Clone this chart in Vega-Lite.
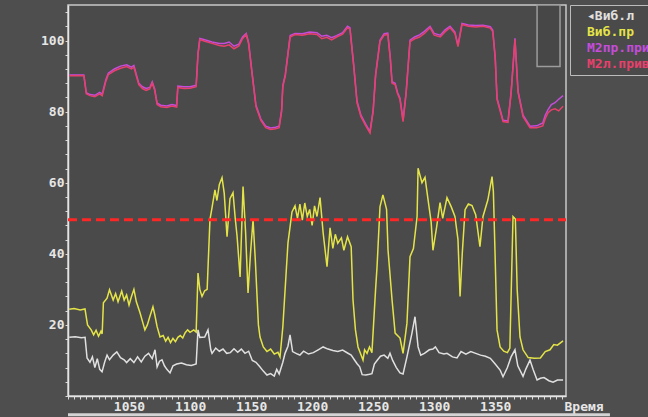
{
 "$schema": "https://vega.github.io/schema/vega-lite/v6.json",
 "width": 498, "height": 391,
 "autosize": {"type": "none"},
 "padding": {"left": 68, "top": 5, "right": 82, "bottom": 21},
 "background": "#4e4e4e",
 "config": {"view": {"fill": "#4a4a4a", "stroke": "#c8c8c8", "strokeWidth": 1.5}, "font": "DejaVu Sans Mono"},
 "encoding": {
  "x": {"field": "t", "type": "quantitative",
   "scale": {"domain": [1000, 1408], "nice": false, "zero": false},
   "axis": {
    "values": [1000,1005,1010,1015,1020,1025,1030,1035,1040,1045,1050,1055,1060,1065,1070,1075,1080,1085,1090,1095,1100,1105,1110,1115,1120,1125,1130,1135,1140,1145,1150,1155,1160,1165,1170,1175,1180,1185,1190,1195,1200,1205,1210,1215,1220,1225,1230,1235,1240,1245,1250,1255,1260,1265,1270,1275,1280,1285,1290,1295,1300,1305,1310,1315,1320,1325,1330,1335,1340,1345,1350,1355,1360,1365,1370,1375,1380,1385,1390,1395,1400,1405],
    "labelExpr": "(datum.value % 50 == 0 && datum.value > 1000 && datum.value < 1400) ? datum.value : ''",
    "title": "Время", "titleX": 496, "titleY": 10, "titleAlign": "left", "titleBaseline": "middle",
    "titleColor": "#e6e6e6", "titleFont": "DejaVu Sans Mono", "titleFontSize": 13, "titleFontWeight": "bold",
    "domainColor": "#e4e4e4", "domainWidth": 1.5, "tickColor": "#d8d8d8", "tickSize": 3,
    "labelColor": "#e6e6e6", "labelFont": "DejaVu Sans Mono", "labelFontSize": 13, "labelFontWeight": "bold",
    "labelPadding": 1, "grid": false, "labelFlush": false, "labelOverlap": false
   }},
  "y": {"field": "v", "type": "quantitative",
   "scale": {"domain": [0, 110], "nice": false, "zero": false},
   "axis": {
    "values": [0,4,8,12,16,20,24,28,32,36,40,44,48,52,56,60,64,68,72,76,80,84,88,92,96,100,104,108],
    "labelExpr": "(datum.value % 20 == 0 && datum.value > 0) ? datum.value : ''",
    "title": null,
    "domainColor": "#e4e4e4", "domainWidth": 1.5, "tickColor": "#d8d8d8", "tickSize": 3,
    "labelColor": "#e6e6e6", "labelFont": "DejaVu Sans Mono", "labelFontSize": 13, "labelFontWeight": "bold",
    "labelPadding": 1, "grid": false, "labelOverlap": false
   }}
 },
 "layer": [
  {
   "data": {"values": [{"t": 1384.3, "t2": 1403.1, "v": 92.7, "v2": 110}]},
   "mark": {"type": "rect", "fill": "#474747", "stroke": "#9c9c9c", "strokeWidth": 1.5},
   "encoding": {"x2": {"field": "t2"}, "y2": {"field": "v2"}}
  },
  {
   "data": {"values": [
{"s":"Виб.л","t":1001,"v":16.5},{"s":"Виб.л","t":1006,"v":16.7},{"s":"Виб.л","t":1011,"v":16.4},{"s":"Виб.л","t":1014,"v":16.5},{"s":"Виб.л","t":1015.6,"v":10.7},{"s":"Виб.л","t":1018,"v":9.5},{"s":"Виб.л","t":1020,"v":11},{"s":"Виб.л","t":1022,"v":8},{"s":"Виб.л","t":1024,"v":10.5},{"s":"Виб.л","t":1026,"v":7.5},{"s":"Виб.л","t":1027.9,"v":6.8},{"s":"Виб.л","t":1030,"v":9.5},{"s":"Виб.л","t":1032,"v":11.5},{"s":"Виб.л","t":1034,"v":10.2},{"s":"Виб.л","t":1037,"v":11.5},{"s":"Виб.л","t":1040,"v":12.4},{"s":"Виб.л","t":1043,"v":10.8},{"s":"Виб.л","t":1046,"v":10.2},{"s":"Виб.л","t":1048,"v":9.4},{"s":"Виб.л","t":1051,"v":10.5},{"s":"Виб.л","t":1054,"v":9.4},{"s":"Виб.л","t":1057,"v":11},{"s":"Виб.л","t":1060,"v":9.6},{"s":"Виб.л","t":1063,"v":11.2},{"s":"Виб.л","t":1066,"v":12},{"s":"Виб.л","t":1069,"v":10.5},{"s":"Виб.л","t":1071.3,"v":13},{"s":"Виб.л","t":1073,"v":8.2},{"s":"Виб.л","t":1075,"v":9.8},{"s":"Виб.л","t":1077,"v":10.2},{"s":"Виб.л","t":1079,"v":8.5},{"s":"Виб.л","t":1081,"v":7.5},{"s":"Виб.л","t":1083.6,"v":6.5},{"s":"Виб.л","t":1086,"v":8.5},{"s":"Виб.л","t":1089,"v":9},{"s":"Виб.л","t":1093,"v":9.3},{"s":"Виб.л","t":1097,"v":8.8},{"s":"Виб.л","t":1101,"v":8.6},{"s":"Виб.л","t":1105,"v":9},{"s":"Виб.л","t":1106.5,"v":18.6},{"s":"Виб.л","t":1108,"v":16.5},{"s":"Виб.л","t":1112,"v":16.6},{"s":"Виб.л","t":1114.7,"v":18.6},{"s":"Виб.л","t":1117,"v":13},{"s":"Виб.л","t":1118,"v":12},{"s":"Виб.л","t":1121,"v":13.5},{"s":"Виб.л","t":1124,"v":12.6},{"s":"Виб.л","t":1127,"v":13.2},{"s":"Виб.л","t":1130,"v":12},{"s":"Виб.л","t":1133,"v":12.2},{"s":"Виб.л","t":1136,"v":13.3},{"s":"Виб.л","t":1139,"v":12.3},{"s":"Виб.л","t":1142,"v":13.2},{"s":"Виб.л","t":1145,"v":12},{"s":"Виб.л","t":1148,"v":12.6},{"s":"Виб.л","t":1151,"v":10},{"s":"Виб.л","t":1154,"v":9.5},{"s":"Виб.л","t":1157,"v":8.3},{"s":"Виб.л","t":1160,"v":7},{"s":"Виб.л","t":1163,"v":5.9},{"s":"Виб.л","t":1166,"v":6.3},{"s":"Виб.л","t":1169,"v":5.6},{"s":"Виб.л","t":1171,"v":7.5},{"s":"Виб.л","t":1173,"v":6.2},{"s":"Виб.л","t":1176,"v":9.5},{"s":"Виб.л","t":1177.8,"v":12},{"s":"Виб.л","t":1180.2,"v":14},{"s":"Виб.л","t":1181.9,"v":17.2},{"s":"Виб.л","t":1184,"v":12.5},{"s":"Виб.л","t":1188,"v":11.8},{"s":"Виб.л","t":1190,"v":11.5},{"s":"Виб.л","t":1193,"v":12.6},{"s":"Виб.л","t":1197,"v":11.8},{"s":"Виб.л","t":1201,"v":12.2},{"s":"Виб.л","t":1205,"v":13},{"s":"Виб.л","t":1209,"v":13.8},{"s":"Виб.л","t":1213,"v":13.2},{"s":"Виб.л","t":1217,"v":12.8},{"s":"Виб.л","t":1221,"v":12.5},{"s":"Виб.л","t":1225,"v":12.9},{"s":"Виб.л","t":1229,"v":12.1},{"s":"Виб.л","t":1232,"v":11.5},{"s":"Виб.л","t":1235,"v":10},{"s":"Виб.л","t":1237,"v":9},{"s":"Виб.л","t":1239,"v":8.2},{"s":"Виб.л","t":1241,"v":6},{"s":"Виб.л","t":1244,"v":5.9},{"s":"Виб.л","t":1247,"v":6.1},{"s":"Виб.л","t":1249,"v":6.3},{"s":"Виб.л","t":1251,"v":9},{"s":"Виб.л","t":1253.2,"v":10},{"s":"Виб.л","t":1256,"v":11.2},{"s":"Виб.л","t":1259,"v":11.5},{"s":"Виб.л","t":1262,"v":10.6},{"s":"Виб.л","t":1263.8,"v":12},{"s":"Виб.л","t":1266,"v":10},{"s":"Виб.л","t":1269,"v":8},{"s":"Виб.л","t":1272,"v":6.5},{"s":"Виб.л","t":1274.5,"v":6.2},{"s":"Виб.л","t":1277.7,"v":11},{"s":"Виб.л","t":1281.8,"v":17.7},{"s":"Виб.л","t":1284.3,"v":22.3},{"s":"Виб.л","t":1286.8,"v":13.8},{"s":"Виб.л","t":1289,"v":11.5},{"s":"Виб.л","t":1292,"v":12},{"s":"Виб.л","t":1296,"v":13},{"s":"Виб.л","t":1299,"v":13.2},{"s":"Виб.л","t":1301,"v":13.8},{"s":"Виб.л","t":1304,"v":12.2},{"s":"Виб.л","t":1308,"v":11.8},{"s":"Виб.л","t":1310.5,"v":12},{"s":"Виб.л","t":1315,"v":11},{"s":"Виб.л","t":1318.7,"v":10.7},{"s":"Виб.л","t":1322,"v":12.5},{"s":"Виб.л","t":1326,"v":11.8},{"s":"Виб.л","t":1330,"v":12.5},{"s":"Виб.л","t":1334,"v":12},{"s":"Виб.л","t":1338,"v":11.5},{"s":"Виб.л","t":1342,"v":11.2},{"s":"Виб.л","t":1346,"v":10.6},{"s":"Виб.л","t":1350,"v":9},{"s":"Виб.л","t":1354,"v":7.3},{"s":"Виб.л","t":1356.4,"v":5.4},{"s":"Виб.л","t":1360,"v":8},{"s":"Виб.л","t":1363,"v":11},{"s":"Виб.л","t":1366.2,"v":13},{"s":"Виб.л","t":1368.5,"v":8.5},{"s":"Виб.л","t":1372.8,"v":5.5},{"s":"Виб.л","t":1375,"v":7.5},{"s":"Виб.л","t":1378.5,"v":10.1},{"s":"Виб.л","t":1381,"v":7.5},{"s":"Виб.л","t":1384.3,"v":4.5},{"s":"Виб.л","t":1387,"v":5},{"s":"Виб.л","t":1390,"v":5.2},{"s":"Виб.л","t":1394,"v":4.3},{"s":"Виб.л","t":1397.4,"v":3.9},{"s":"Виб.л","t":1401,"v":4.5},{"s":"Виб.л","t":1405.6,"v":4.5},
{"s":"Виб.пр","t":1001,"v":24.4},{"s":"Виб.пр","t":1005,"v":24.6},{"s":"Виб.пр","t":1010,"v":24.2},{"s":"Виб.пр","t":1013.9,"v":24.5},{"s":"Виб.пр","t":1016,"v":20},{"s":"Виб.пр","t":1019,"v":18.6},{"s":"Виб.пр","t":1021,"v":17.2},{"s":"Виб.пр","t":1023,"v":18.5},{"s":"Виб.пр","t":1025,"v":16.8},{"s":"Виб.пр","t":1027,"v":18.2},{"s":"Виб.пр","t":1028,"v":17.5},{"s":"Виб.пр","t":1029,"v":26.2},{"s":"Виб.пр","t":1032,"v":27.5},{"s":"Виб.пр","t":1034,"v":29.9},{"s":"Виб.пр","t":1037,"v":27},{"s":"Виб.пр","t":1039,"v":28.8},{"s":"Виб.пр","t":1041,"v":26.5},{"s":"Виб.пр","t":1044,"v":29.5},{"s":"Виб.пр","t":1046,"v":27},{"s":"Виб.пр","t":1048,"v":28.4},{"s":"Виб.пр","t":1050,"v":25.6},{"s":"Виб.пр","t":1052,"v":28},{"s":"Виб.пр","t":1054,"v":30},{"s":"Виб.пр","t":1056,"v":26.5},{"s":"Виб.пр","t":1059,"v":23.4},{"s":"Виб.пр","t":1061,"v":21},{"s":"Виб.пр","t":1063,"v":18.6},{"s":"Виб.пр","t":1065,"v":20},{"s":"Виб.пр","t":1067,"v":22.3},{"s":"Виб.пр","t":1069.6,"v":25.1},{"s":"Виб.пр","t":1071,"v":23},{"s":"Виб.пр","t":1073,"v":19.5},{"s":"Виб.пр","t":1075.4,"v":16.6},{"s":"Виб.пр","t":1078,"v":17},{"s":"Виб.пр","t":1080,"v":15.4},{"s":"Виб.пр","t":1082,"v":16.5},{"s":"Виб.пр","t":1084,"v":15},{"s":"Виб.пр","t":1086,"v":16.2},{"s":"Виб.пр","t":1088,"v":15.3},{"s":"Виб.пр","t":1090,"v":16.5},{"s":"Виб.пр","t":1092,"v":17},{"s":"Виб.пр","t":1094,"v":16.3},{"s":"Виб.пр","t":1096,"v":17.8},{"s":"Виб.пр","t":1098,"v":18.6},{"s":"Виб.пр","t":1100,"v":17.9},{"s":"Виб.пр","t":1103,"v":18.6},{"s":"Виб.пр","t":1105,"v":18},{"s":"Виб.пр","t":1106.5,"v":34.6},{"s":"Виб.пр","t":1108,"v":30},{"s":"Виб.пр","t":1109.8,"v":28},{"s":"Виб.пр","t":1112,"v":29.6},{"s":"Виб.пр","t":1114,"v":30},{"s":"Виб.пр","t":1116.3,"v":49.6},{"s":"Виб.пр","t":1118,"v":53},{"s":"Виб.пр","t":1120.4,"v":58},{"s":"Виб.пр","t":1122,"v":55},{"s":"Виб.пр","t":1124,"v":59.5},{"s":"Виб.пр","t":1126.2,"v":61.4},{"s":"Виб.пр","t":1128,"v":57},{"s":"Виб.пр","t":1130.3,"v":44.8},{"s":"Виб.пр","t":1132.7,"v":55.5},{"s":"Виб.пр","t":1135.2,"v":57.2},{"s":"Виб.пр","t":1137,"v":50},{"s":"Виб.пр","t":1138.5,"v":45},{"s":"Виб.пр","t":1141,"v":33.5},{"s":"Виб.пр","t":1143.4,"v":58.9},{"s":"Виб.пр","t":1145.5,"v":46},{"s":"Виб.пр","t":1147.5,"v":29},{"s":"Виб.пр","t":1149.5,"v":40},{"s":"Виб.пр","t":1151.6,"v":49.6},{"s":"Виб.пр","t":1153.5,"v":38},{"s":"Виб.пр","t":1156,"v":20},{"s":"Виб.пр","t":1157.3,"v":16.6},{"s":"Виб.пр","t":1160,"v":13.8},{"s":"Виб.пр","t":1163,"v":12.5},{"s":"Виб.пр","t":1166,"v":13.2},{"s":"Виб.пр","t":1169,"v":11.8},{"s":"Виб.пр","t":1172,"v":12.3},{"s":"Виб.пр","t":1173.7,"v":11},{"s":"Виб.пр","t":1176,"v":19.4},{"s":"Виб.пр","t":1180.2,"v":43},{"s":"Виб.пр","t":1183.5,"v":51.8},{"s":"Виб.пр","t":1186,"v":53.5},{"s":"Виб.пр","t":1188,"v":50},{"s":"Виб.пр","t":1190,"v":54},{"s":"Виб.пр","t":1192,"v":49.5},{"s":"Виб.пр","t":1194,"v":54.3},{"s":"Виб.пр","t":1196,"v":50.5},{"s":"Виб.пр","t":1198,"v":52.5},{"s":"Виб.пр","t":1200,"v":48},{"s":"Виб.пр","t":1202,"v":53.5},{"s":"Виб.пр","t":1204,"v":50.5},{"s":"Виб.пр","t":1206.5,"v":55.8},{"s":"Виб.пр","t":1209,"v":46},{"s":"Виб.пр","t":1212.2,"v":36.4},{"s":"Виб.пр","t":1214.7,"v":47.3},{"s":"Виб.пр","t":1217,"v":41.5},{"s":"Виб.пр","t":1219,"v":45.5},{"s":"Виб.пр","t":1221,"v":43},{"s":"Виб.пр","t":1224,"v":44.5},{"s":"Виб.пр","t":1226,"v":41},{"s":"Виб.пр","t":1229,"v":44.8},{"s":"Виб.пр","t":1232,"v":42},{"s":"Виб.пр","t":1233.5,"v":27},{"s":"Виб.пр","t":1235.5,"v":18.6},{"s":"Виб.пр","t":1237.6,"v":13.8},{"s":"Виб.пр","t":1241.7,"v":10.1},{"s":"Виб.пр","t":1243,"v":13},{"s":"Виб.пр","t":1245,"v":12},{"s":"Виб.пр","t":1247,"v":13.8},{"s":"Виб.пр","t":1249,"v":12.2},{"s":"Виб.пр","t":1252,"v":30},{"s":"Виб.пр","t":1253.2,"v":36.4},{"s":"Виб.пр","t":1255.6,"v":53.2},{"s":"Виб.пр","t":1258,"v":56.6},{"s":"Виб.пр","t":1261,"v":52.5},{"s":"Виб.пр","t":1262.2,"v":41},{"s":"Виб.пр","t":1265.5,"v":27},{"s":"Виб.пр","t":1268,"v":17.7},{"s":"Виб.пр","t":1272,"v":16.3},{"s":"Виб.пр","t":1274.5,"v":12},{"s":"Виб.пр","t":1277.7,"v":20.5},{"s":"Виб.пр","t":1280.2,"v":39.2},{"s":"Виб.пр","t":1283,"v":41.5},{"s":"Виб.пр","t":1286,"v":50.5},{"s":"Виб.пр","t":1286.8,"v":64.1},{"s":"Виб.пр","t":1290,"v":60},{"s":"Виб.пр","t":1292.5,"v":61.5},{"s":"Виб.пр","t":1295,"v":55.2},{"s":"Виб.пр","t":1297.5,"v":49},{"s":"Виб.пр","t":1299,"v":41},{"s":"Виб.пр","t":1302,"v":47.5},{"s":"Виб.пр","t":1304.8,"v":54.4},{"s":"Виб.пр","t":1307,"v":50},{"s":"Виб.пр","t":1310.5,"v":55.8},{"s":"Виб.пр","t":1314,"v":53.2},{"s":"Виб.пр","t":1317,"v":50.5},{"s":"Виб.пр","t":1319.5,"v":44},{"s":"Виб.пр","t":1321.2,"v":28},{"s":"Виб.пр","t":1323,"v":40},{"s":"Виб.пр","t":1325.3,"v":52.4},{"s":"Виб.пр","t":1328,"v":54},{"s":"Виб.пр","t":1331,"v":53.6},{"s":"Виб.пр","t":1334,"v":51},{"s":"Виб.пр","t":1337.5,"v":42},{"s":"Виб.пр","t":1340,"v":50.5},{"s":"Виб.пр","t":1344,"v":55.2},{"s":"Виб.пр","t":1347.4,"v":61.7},{"s":"Виб.пр","t":1348.5,"v":57.5},{"s":"Виб.пр","t":1349.8,"v":41},{"s":"Виб.пр","t":1351.5,"v":18.6},{"s":"Виб.пр","t":1354,"v":13.8},{"s":"Виб.пр","t":1357,"v":12.6},{"s":"Виб.пр","t":1360,"v":12.2},{"s":"Виб.пр","t":1362,"v":13.5},{"s":"Виб.пр","t":1364.6,"v":50.5},{"s":"Виб.пр","t":1366.5,"v":49.8},{"s":"Виб.пр","t":1368,"v":30},{"s":"Виб.пр","t":1370.3,"v":16.6},{"s":"Виб.пр","t":1372.8,"v":13},{"s":"Виб.пр","t":1377,"v":10.8},{"s":"Виб.пр","t":1382,"v":10.6},{"s":"Виб.пр","t":1387,"v":10.7},{"s":"Виб.пр","t":1391,"v":12.5},{"s":"Виб.пр","t":1394.9,"v":13},{"s":"Виб.пр","t":1398,"v":14.5},{"s":"Виб.пр","t":1401,"v":14.3},{"s":"Виб.пр","t":1405.6,"v":15.5},
{"s":"М2пр.прив","t":1001,"v":90.3},{"s":"М2пр.прив","t":1013,"v":90.3},{"s":"М2пр.прив","t":1015,"v":85.3},{"s":"М2пр.прив","t":1018,"v":84.8},{"s":"М2пр.прив","t":1022,"v":84.6},{"s":"М2пр.прив","t":1026,"v":85.4},{"s":"М2пр.прив","t":1028,"v":84.9},{"s":"М2пр.прив","t":1031,"v":89},{"s":"М2пр.прив","t":1033,"v":90.8},{"s":"М2пр.прив","t":1038,"v":92},{"s":"М2пр.прив","t":1043,"v":92.8},{"s":"М2пр.прив","t":1048,"v":93.2},{"s":"М2пр.прив","t":1052,"v":92.5},{"s":"М2пр.прив","t":1054,"v":93},{"s":"М2пр.прив","t":1056,"v":90.4},{"s":"М2пр.прив","t":1058,"v":88},{"s":"М2пр.прив","t":1061,"v":87},{"s":"М2пр.прив","t":1064,"v":86.5},{"s":"М2пр.прив","t":1067,"v":86.8},{"s":"М2пр.прив","t":1069,"v":88.4},{"s":"М2пр.прив","t":1071,"v":86.4},{"s":"М2пр.прив","t":1073,"v":82.4},{"s":"М2пр.прив","t":1076,"v":81.8},{"s":"М2пр.прив","t":1081,"v":81.6},{"s":"М2пр.прив","t":1085,"v":82},{"s":"М2пр.прив","t":1089,"v":81.7},{"s":"М2пр.прив","t":1090,"v":87.2},{"s":"М2пр.прив","t":1095,"v":87},{"s":"М2пр.прив","t":1100,"v":87},{"s":"М2пр.прив","t":1105,"v":87.4},{"s":"М2пр.прив","t":1106.5,"v":96.4},{"s":"М2пр.прив","t":1108,"v":100.6},{"s":"М2пр.прив","t":1112,"v":100.2},{"s":"М2пр.прив","t":1118,"v":99.6},{"s":"М2пр.прив","t":1124,"v":99.2},{"s":"М2пр.прив","t":1128,"v":99.2},{"s":"М2пр.прив","t":1132,"v":99.6},{"s":"М2пр.прив","t":1136,"v":98.4},{"s":"М2пр.прив","t":1140,"v":99},{"s":"М2пр.прив","t":1143,"v":101},{"s":"М2пр.прив","t":1146,"v":102},{"s":"М2пр.прив","t":1148,"v":99.4},{"s":"М2пр.прив","t":1151,"v":90.4},{"s":"М2пр.прив","t":1154,"v":81.8},{"s":"М2пр.прив","t":1158,"v":77.9},{"s":"М2пр.прив","t":1162,"v":75.9},{"s":"М2пр.прив","t":1166,"v":75.4},{"s":"М2пр.прив","t":1170,"v":75.6},{"s":"М2пр.прив","t":1173,"v":75.9},{"s":"М2пр.прив","t":1175,"v":80.4},{"s":"М2пр.прив","t":1176,"v":87.4},{"s":"М2пр.прив","t":1178,"v":90.4},{"s":"М2пр.прив","t":1182,"v":101.4},{"s":"М2пр.прив","t":1186,"v":102},{"s":"М2пр.прив","t":1192,"v":101.9},{"s":"М2пр.прив","t":1198,"v":102.4},{"s":"М2пр.прив","t":1204,"v":102.2},{"s":"М2пр.прив","t":1208,"v":101.2},{"s":"М2пр.прив","t":1212,"v":101.5},{"s":"М2пр.прив","t":1216,"v":100.8},{"s":"М2пр.прив","t":1220,"v":101.4},{"s":"М2пр.прив","t":1225,"v":102.2},{"s":"М2пр.прив","t":1229,"v":104},{"s":"М2пр.прив","t":1231,"v":103.6},{"s":"М2пр.прив","t":1234,"v":93.4},{"s":"М2пр.прив","t":1236.8,"v":82.9},{"s":"М2пр.прив","t":1240,"v":79},{"s":"М2пр.прив","t":1244,"v":76.4},{"s":"М2пр.прив","t":1247.4,"v":74.4},{"s":"М2пр.прив","t":1250,"v":80.4},{"s":"М2пр.прив","t":1252,"v":90.4},{"s":"М2пр.прив","t":1255.6,"v":100.1},{"s":"М2пр.прив","t":1259,"v":101.9},{"s":"М2пр.прив","t":1262,"v":102.1},{"s":"М2пр.прив","t":1264,"v":95.4},{"s":"М2пр.прив","t":1265.5,"v":88.4},{"s":"М2пр.прив","t":1268,"v":88},{"s":"М2пр.прив","t":1270,"v":85.4},{"s":"М2пр.прив","t":1272,"v":83.8},{"s":"М2пр.прив","t":1274.5,"v":77.6},{"s":"М2пр.прив","t":1277,"v":85.4},{"s":"М2пр.прив","t":1280.2,"v":100.1},{"s":"М2пр.прив","t":1284,"v":101},{"s":"М2пр.прив","t":1288,"v":101.6},{"s":"М2пр.прив","t":1292,"v":102.6},{"s":"М2пр.прив","t":1296.6,"v":104},{"s":"М2пр.прив","t":1300,"v":102},{"s":"М2пр.прив","t":1305,"v":101.5},{"s":"М2пр.прив","t":1309,"v":103},{"s":"М2пр.прив","t":1313,"v":104},{"s":"М2пр.прив","t":1317,"v":102.4},{"s":"М2пр.прив","t":1319.5,"v":98.7},{"s":"М2пр.прив","t":1322.8,"v":104.8},{"s":"М2пр.прив","t":1328,"v":104.4},{"s":"М2пр.прив","t":1334,"v":104.2},{"s":"М2пр.прив","t":1340,"v":104.3},{"s":"М2пр.прив","t":1346,"v":103.9},{"s":"М2пр.прив","t":1348,"v":102.9},{"s":"М2пр.прив","t":1350,"v":95.4},{"s":"М2пр.прив","t":1351.5,"v":83.8},{"s":"М2пр.прив","t":1356.4,"v":77.6},{"s":"М2пр.прив","t":1360.5,"v":77.4},{"s":"М2пр.прив","t":1363,"v":85.4},{"s":"М2пр.прив","t":1366.2,"v":100.6},{"s":"М2пр.прив","t":1368.7,"v":85.8},{"s":"М2пр.прив","t":1372.8,"v":79},{"s":"М2пр.прив","t":1378.5,"v":75.9},{"s":"М2пр.прив","t":1384,"v":76},{"s":"М2пр.прив","t":1389,"v":76.8},{"s":"М2пр.прив","t":1391,"v":79},{"s":"М2пр.прив","t":1393.3,"v":80.6},{"s":"М2пр.прив","t":1396,"v":82},{"s":"М2пр.прив","t":1399,"v":82.5},{"s":"М2пр.прив","t":1402,"v":83.5},{"s":"М2пр.прив","t":1405.6,"v":84.5},
{"s":"М2л.прив","t":1001,"v":90.1},{"s":"М2л.прив","t":1013,"v":90.1},{"s":"М2л.прив","t":1015,"v":85},{"s":"М2л.прив","t":1018,"v":84.5},{"s":"М2л.прив","t":1022,"v":84.2},{"s":"М2л.прив","t":1026,"v":85},{"s":"М2л.прив","t":1028,"v":84.5},{"s":"М2л.прив","t":1031,"v":88.5},{"s":"М2л.прив","t":1033,"v":90.4},{"s":"М2л.прив","t":1038,"v":91.5},{"s":"М2л.прив","t":1043,"v":92.2},{"s":"М2л.прив","t":1048,"v":92.7},{"s":"М2л.прив","t":1052,"v":92},{"s":"М2л.прив","t":1054,"v":92.5},{"s":"М2л.прив","t":1056,"v":90},{"s":"М2л.прив","t":1058,"v":87.6},{"s":"М2л.прив","t":1061,"v":86.5},{"s":"М2л.прив","t":1064,"v":86},{"s":"М2л.прив","t":1067,"v":86.4},{"s":"М2л.прив","t":1069,"v":88},{"s":"М2л.прив","t":1071,"v":86},{"s":"М2л.прив","t":1073,"v":82},{"s":"М2л.прив","t":1076,"v":81.4},{"s":"М2л.прив","t":1081,"v":81.2},{"s":"М2л.прив","t":1085,"v":81.6},{"s":"М2л.прив","t":1089,"v":81.3},{"s":"М2л.прив","t":1090,"v":86.8},{"s":"М2л.прив","t":1095,"v":86.5},{"s":"М2л.прив","t":1100,"v":86.6},{"s":"М2л.прив","t":1105,"v":87},{"s":"М2л.прив","t":1106.5,"v":96},{"s":"М2л.прив","t":1108,"v":100.3},{"s":"М2л.прив","t":1112,"v":99.8},{"s":"М2л.прив","t":1118,"v":99.2},{"s":"М2л.прив","t":1124,"v":98.6},{"s":"М2л.прив","t":1128,"v":98.4},{"s":"М2л.прив","t":1132,"v":98.8},{"s":"М2л.прив","t":1136,"v":97.7},{"s":"М2л.прив","t":1140,"v":98.5},{"s":"М2л.прив","t":1143,"v":100.5},{"s":"М2л.прив","t":1146,"v":101.7},{"s":"М2л.прив","t":1148,"v":99},{"s":"М2л.прив","t":1151,"v":90},{"s":"М2л.прив","t":1154,"v":81.4},{"s":"М2л.прив","t":1158,"v":77.5},{"s":"М2л.прив","t":1162,"v":75.5},{"s":"М2л.прив","t":1166,"v":75},{"s":"М2л.прив","t":1170,"v":75.2},{"s":"М2л.прив","t":1173,"v":75.5},{"s":"М2л.прив","t":1175,"v":80},{"s":"М2л.прив","t":1176,"v":87},{"s":"М2л.прив","t":1178,"v":90},{"s":"М2л.прив","t":1182,"v":101},{"s":"М2л.прив","t":1186,"v":101.7},{"s":"М2л.прив","t":1192,"v":101.5},{"s":"М2л.прив","t":1198,"v":101.9},{"s":"М2л.прив","t":1204,"v":101.7},{"s":"М2л.прив","t":1208,"v":100.5},{"s":"М2л.прив","t":1212,"v":100.9},{"s":"М2л.прив","t":1216,"v":100.2},{"s":"М2л.прив","t":1220,"v":101},{"s":"М2л.прив","t":1225,"v":101.8},{"s":"М2л.прив","t":1229,"v":103.6},{"s":"М2л.прив","t":1231,"v":103.2},{"s":"М2л.прив","t":1234,"v":93},{"s":"М2л.прив","t":1236.8,"v":82.5},{"s":"М2л.прив","t":1240,"v":78.6},{"s":"М2л.прив","t":1244,"v":76},{"s":"М2л.прив","t":1247.4,"v":74},{"s":"М2л.прив","t":1250,"v":80},{"s":"М2л.прив","t":1252,"v":90},{"s":"М2л.прив","t":1255.6,"v":99.7},{"s":"М2л.прив","t":1259,"v":101.5},{"s":"М2л.прив","t":1262,"v":101.7},{"s":"М2л.прив","t":1264,"v":95},{"s":"М2л.прив","t":1265.5,"v":88},{"s":"М2л.прив","t":1268,"v":87.6},{"s":"М2л.прив","t":1270,"v":85},{"s":"М2л.прив","t":1272,"v":83.4},{"s":"М2л.прив","t":1274.5,"v":77.2},{"s":"М2л.прив","t":1277,"v":85},{"s":"М2л.прив","t":1280.2,"v":99.7},{"s":"М2л.прив","t":1284,"v":100.5},{"s":"М2л.прив","t":1288,"v":101},{"s":"М2л.прив","t":1292,"v":102},{"s":"М2л.прив","t":1296.6,"v":103.6},{"s":"М2л.прив","t":1300,"v":101.5},{"s":"М2л.прив","t":1305,"v":101},{"s":"М2л.прив","t":1309,"v":102.5},{"s":"М2л.прив","t":1313,"v":103.6},{"s":"М2л.прив","t":1317,"v":102},{"s":"М2л.прив","t":1319.5,"v":98.3},{"s":"М2л.прив","t":1322.8,"v":104.5},{"s":"М2л.прив","t":1328,"v":104},{"s":"М2л.прив","t":1334,"v":103.8},{"s":"М2л.прив","t":1340,"v":104},{"s":"М2л.прив","t":1346,"v":103.5},{"s":"М2л.прив","t":1348,"v":102.5},{"s":"М2л.прив","t":1350,"v":95},{"s":"М2л.прив","t":1351.5,"v":83.4},{"s":"М2л.прив","t":1356.4,"v":77.2},{"s":"М2л.прив","t":1360.5,"v":77},{"s":"М2л.прив","t":1363,"v":85},{"s":"М2л.прив","t":1366.2,"v":100.3},{"s":"М2л.прив","t":1368.7,"v":85.4},{"s":"М2л.прив","t":1372.8,"v":78.6},{"s":"М2л.прив","t":1378.5,"v":75.5},{"s":"М2л.прив","t":1384,"v":75.5},{"s":"М2л.прив","t":1389,"v":76},{"s":"М2л.прив","t":1391,"v":78},{"s":"М2л.прив","t":1393.3,"v":79.7},{"s":"М2л.прив","t":1396,"v":80.5},{"s":"М2л.прив","t":1399,"v":80.8},{"s":"М2л.прив","t":1402,"v":80.2},{"s":"М2л.прив","t":1405.6,"v":81.5}
   ]},
   "mark": {"type": "line", "strokeWidth": 1.5, "clip": true},
   "encoding": {
    "color": {"field": "s", "type": "nominal",
     "scale": {"domain": ["Виб.л", "Виб.пр", "М2пр.прив", "М2л.прив"], "range": ["#e0e0e0", "#e4e448", "#c64cdc", "#e8406c"]},
     "legend": {
      "orient": "none", "legendX": 502, "legendY": 0, "title": null,
      "symbolSize": 0, "symbolOpacity": 0, "symbolStrokeWidth": 0, "labelOffset": 0,
      "labelFont": "DejaVu Sans Mono", "labelFontSize": 13, "labelFontWeight": "bold",
      "rowPadding": 2, "padding": 4, "strokeColor": "#bcbcbc", "fillColor": "#4a4a4a",
      "labelLimit": 300,
      "labelExpr": "datum.label == 'Виб.л' ? '◂Виб.л' : '\u00a0' + datum.label",
      "encode": {"labels": {"update": {"fill": {"scale": "color", "field": "value"}}}}
     }},
    "order": {"value": 0}
   }
  },
  {
   "data": {"values": [{"t": 1000, "t2": 1408, "v": 49.6}]},
   "mark": {"type": "rule", "color": "#ff2626", "strokeWidth": 3, "strokeDash": [9, 5]},
   "encoding": {"x2": {"field": "t2"}}
  },
  {
   "data": {"values": [{"t": 1000, "t2": 1444, "v": -5.3}]},
   "mark": {"type": "rule", "color": "#d4d4d4", "strokeWidth": 3, "clip": false},
   "encoding": {"x2": {"field": "t2"}}
  }
 ]
}
